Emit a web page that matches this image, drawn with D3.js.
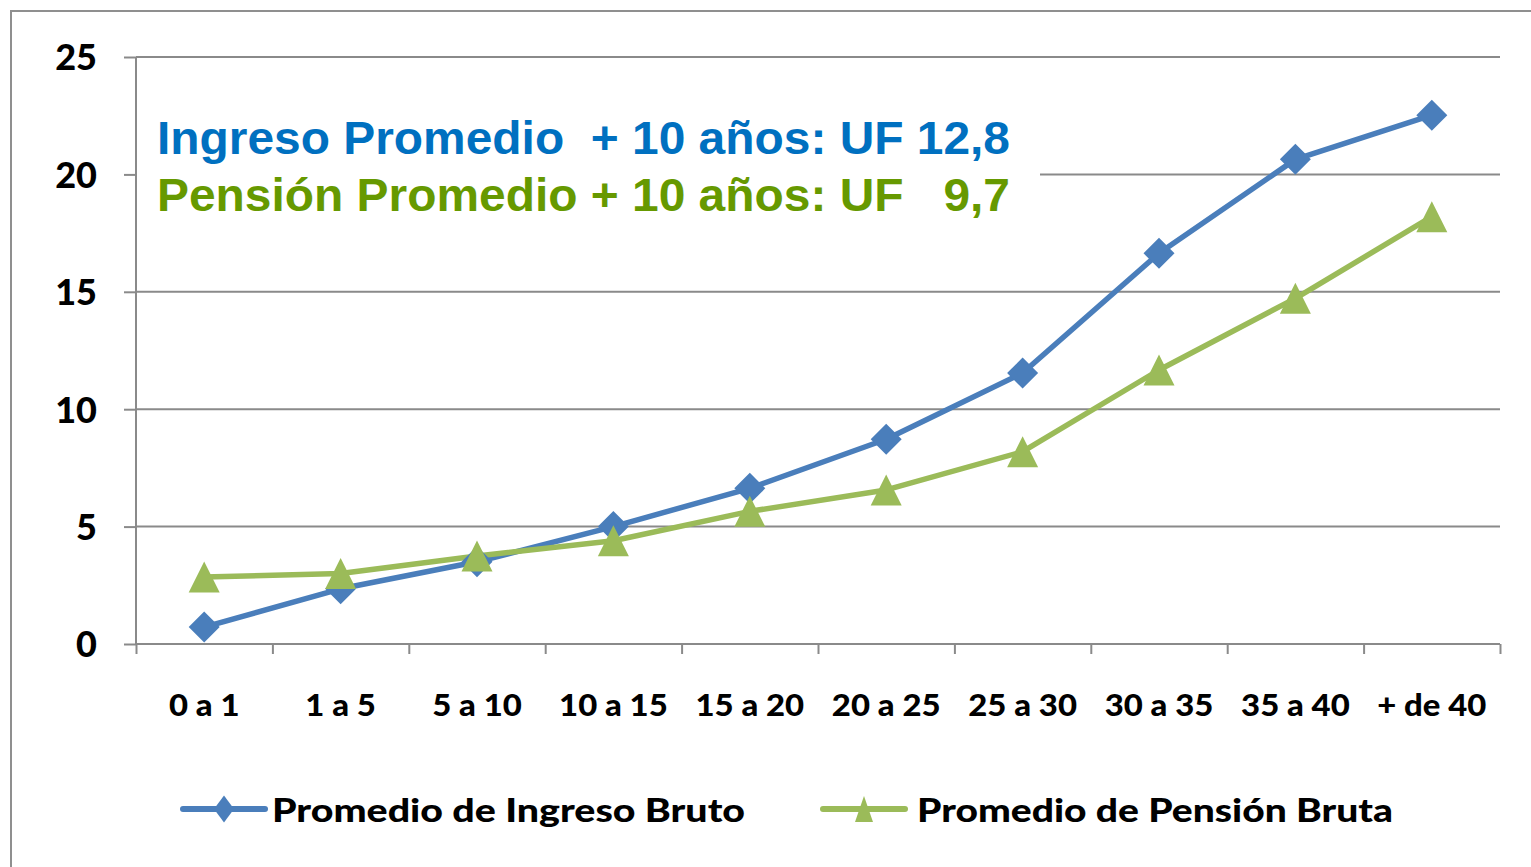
<!DOCTYPE html>
<html><head><meta charset="utf-8">
<script src="https://cdn.jsdelivr.net/npm/d3@7"></script>
<style>
html,body{margin:0;padding:0;background:#fff;}
svg{display:block;}
text{white-space:pre;}
</style></head>
<body>
<svg id="chart" width="1531" height="867"></svg>
<script>
const categories = ["0 a 1","1 a 5","5 a 10","10 a 15","15 a 20","20 a 25","25 a 30","30 a 35","35 a 40","+ de 40"];
const ingresoBruto = [0.72, 2.35, 3.5, 5.0, 6.63, 8.72, 11.54, 16.64, 20.64, 22.52];
const pensionBruta = [2.85, 3.0, 3.75, 4.4, 5.65, 6.56, 8.19, 11.67, 14.72, 18.2];
const yTicks = [0, 5, 10, 15, 20, 25];
const seriesNames = ["Promedio de Ingreso Bruto", "Promedio de Pensión Bruta"];
const noteLines = ["Ingreso Promedio  + 10 años: UF 12,8", "Pensión Promedio + 10 años: UF   9,7"];

(function () {
const svg = d3.select("#chart");
const W = 1531, H = 867;
const mLeft = 136, mRight = 1500, mTop = 57, mBottom = 644;
const BLUE = "#4A7EBB", GREEN = "#9BBB59", GRID = "#8a8a8a";

// outer border
svg.append("rect").attr("x", 11).attr("y", 11).attr("width", W + 20).attr("height", H + 20)
  .attr("fill", "#fff").attr("stroke", "#8f8f8f").attr("stroke-width", 2);

const x = d3.scaleBand().domain(categories).range([mLeft, mRight]).padding(0);
const xi = d3.scaleLinear().domain([0, categories.length]).range([mLeft, mRight]);
const y = d3.scaleLinear().domain([0, 25]).range([mBottom, mTop]);

function stretch(sel, factor) {
  sel.each(function () {
    const n = this.getComputedTextLength();
    d3.select(this).attr("textLength", n * factor).attr("lengthAdjust", "spacingAndGlyphs");
  });
}

// gridlines
svg.append("g").selectAll("line").data(yTicks.filter(d => d > 0)).join("line")
  .attr("x1", mLeft).attr("x2", mRight).attr("y1", d => y(d)).attr("y2", d => y(d))
  .attr("stroke", GRID).attr("stroke-width", 2);

// y axis
const yAxis = svg.append("g").attr("transform", `translate(${mLeft},0)`)
  .call(d3.axisLeft(y).tickValues(yTicks).tickSize(12).tickPadding(27).tickFormat(d3.format("d")));
yAxis.select(".domain").attr("stroke", GRID).attr("stroke-width", 2).attr("d", `M0,${mTop}V${mBottom}`);
yAxis.selectAll(".tick line").attr("stroke", GRID).attr("stroke-width", 2);
yAxis.selectAll(".tick text").attr("font-family", "Lato").attr("font-weight", "900")
  .attr("font-size", 36).attr("fill", "#000").attr("dy", "0.36em");

// x axis tick marks at boundaries
const xTickAxis = svg.append("g").attr("transform", `translate(0,${mBottom})`)
  .call(d3.axisBottom(xi).tickValues(d3.range(categories.length + 1)).tickSize(10).tickFormat(""));
xTickAxis.select(".domain").attr("stroke", GRID).attr("stroke-width", 2).attr("d", `M${mLeft},0H${mRight}`);
xTickAxis.selectAll(".tick line").attr("stroke", GRID).attr("stroke-width", 2);

// x labels
const xLab = svg.append("g").attr("transform", `translate(0,${mBottom})`)
  .call(d3.axisBottom(x).tickSize(0).tickPadding(66));
xLab.select(".domain").remove();
xLab.selectAll(".tick text").attr("font-family", "Lato").attr("font-weight", "900")
  .attr("font-size", 31).attr("fill", "#000").attr("dy", "0.2em");
stretch(xLab.selectAll(".tick text"), 1.06);

// text box
svg.append("rect").attr("x", 137).attr("y", 97).attr("width", 903).attr("height", 138).attr("fill", "#fff");
svg.append("text").attr("x", 157).attr("y", 154).text(noteLines[0])
  .attr("font-family", "Liberation Sans, Arial").attr("font-weight", "bold").attr("font-size", 46)
  .attr("fill", "#0070C0").attr("textLength", 853).attr("lengthAdjust", "spacingAndGlyphs");
svg.append("text").attr("x", 157).attr("y", 211).text(noteLines[1])
  .attr("font-family", "Liberation Sans, Arial").attr("font-weight", "bold").attr("font-size", 46)
  .attr("fill", "#669900").attr("textLength", 853).attr("lengthAdjust", "spacingAndGlyphs");

const cx = (d, i) => x(categories[i]) + x.bandwidth() / 2;
const line = d3.line().x((d, i) => cx(d, i)).y(d => y(d));

const diamond = "M0,-15.5L15.5,0L0,15.5L-15.5,0Z";
const triangle = "M0,-15.5L15.5,15.5L-15.5,15.5Z";

// series
svg.append("path").datum(ingresoBruto).attr("d", line).attr("fill", "none")
  .attr("stroke", BLUE).attr("stroke-width", 5.5).attr("stroke-linejoin", "round");
svg.append("path").datum(pensionBruta).attr("d", line).attr("fill", "none")
  .attr("stroke", GREEN).attr("stroke-width", 5.5).attr("stroke-linejoin", "round");

svg.append("g").selectAll("path").data(ingresoBruto).join("path")
  .attr("d", diamond).attr("fill", BLUE)
  .attr("transform", (d, i) => `translate(${cx(d, i)},${y(d)})`);
svg.append("g").selectAll("path").data(pensionBruta).join("path")
  .attr("d", triangle).attr("fill", GREEN)
  .attr("transform", (d, i) => `translate(${cx(d, i)},${y(d)})`);

// legend
const legend = [
  {name: seriesNames[0], color: BLUE, shape: "M0,-13.5L10,0L0,13.5L-10,0Z", x0: 183, tx: 272, tl: 473},
  {name: seriesNames[1], color: GREEN, shape: "M0,-13L9,13L-9,13Z", x0: 823, tx: 917, tl: 476}
];
const lg = svg.append("g").selectAll("g").data(legend).join("g");
lg.append("line").attr("x1", d => d.x0).attr("x2", d => d.x0 + 82).attr("y1", 809).attr("y2", 809)
  .attr("stroke", d => d.color).attr("stroke-width", 6).attr("stroke-linecap", "round");
lg.append("path").attr("d", d => d.shape).attr("fill", d => d.color)
  .attr("transform", d => `translate(${d.x0 + 41},809)`);
lg.append("text").attr("x", d => d.tx).attr("y", 822).text(d => d.name)
  .attr("font-family", "Lato").attr("font-weight", "900").attr("font-size", 33).attr("fill", "#000")
  .attr("textLength", d => d.tl).attr("lengthAdjust", "spacingAndGlyphs");
})();
</script>
</body></html>
